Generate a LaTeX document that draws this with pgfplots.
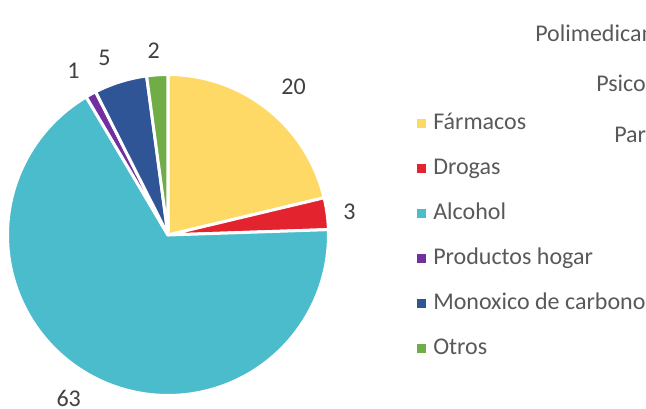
\documentclass[border=0pt]{standalone}
\usepackage{fontspec}
\setmainfont{Carlito}
\usepackage{pgfplots}
\usepackage{pgfplotstable}
\pgfplotsset{compat=1.18}

% slice colours, in table order
\definecolor{slice0}{HTML}{FFD966}
\definecolor{slice1}{HTML}{E3232E}
\definecolor{slice2}{HTML}{4BBCCB}
\definecolor{slice3}{HTML}{7030A0}
\definecolor{slice4}{HTML}{2F5597}
\definecolor{slice5}{HTML}{70AD47}
\definecolor{txt}{HTML}{404040}
\definecolor{leg}{HTML}{595959}

% lr = label radius, la = label angle nudge (degrees)
\pgfplotstableread[col sep=comma]{
label,value,lr,la
Fármacos,20,1.21,-2
Drogas,3,1.14,-0.5
Alcohol,63,1.19,-2.6
Productos hogar,1,1.18,1.2
Monoxico de carbono,5,1.17,2.5
Otros,2,1.15,0.6
}\piedata

\def\px{0.75pt}
\newcommand\bigfont{\fontsize{18}{21.6}\selectfont}

\begin{document}%
\begin{tikzpicture}
\useasboundingbox (0,0) rectangle (646*\px,-409*\px);
\clip (0,0) rectangle (646*\px,-409*\px);

% cumulative sums -> start / end / middle angle of each slice
\def\cum{0}
\pgfplotsforeachungrouped \i in {0,...,5}{%
  \pgfplotstablegetelem{\i}{value}\of\piedata
  \expandafter\xdef\csname val\i\endcsname{\pgfplotsretval}%
  \expandafter\xdef\csname cs\i\endcsname{\cum}%
  \pgfmathsetmacro\tmp{\cum+\pgfplotsretval}%
  \xdef\cum{\tmp}%
  \pgfplotstablegetelem{\i}{label}\of\piedata
  \expandafter\xdef\csname lab\i\endcsname{\pgfplotsretval}%
  \pgfplotstablegetelem{\i}{lr}\of\piedata
  \expandafter\xdef\csname lr\i\endcsname{\pgfplotsretval}%
  \pgfplotstablegetelem{\i}{la}\of\piedata
  \expandafter\xdef\csname la\i\endcsname{\pgfplotsretval}%
}%
\pgfplotsforeachungrouped \i in {0,...,5}{%
  \pgfmathsetmacro\angs{90-360*(\csname cs\i\endcsname/\cum)}%
  \pgfmathsetmacro\ange{\angs-360*(\csname val\i\endcsname/\cum)}%
  \pgfmathsetmacro\angm{(\angs+\ange)/2+\csname la\i\endcsname}%
  \expandafter\xdef\csname aS\i\endcsname{\angs}%
  \expandafter\xdef\csname aE\i\endcsname{\ange}%
  \expandafter\xdef\csname aM\i\endcsname{\angm}%
}%

\begin{axis}[
  at={(168*\px,-235*\px)}, anchor=origin,
  width=321*\px, height=321*\px, scale only axis,
  xmin=-1, xmax=1, ymin=-1, ymax=1,
  hide axis, clip=false,
]
\pgfplotsinvokeforeach{0,...,5}{
  \addplot[fill=slice#1, draw=white, line width=2.25pt, line join=round,
    domain=\csname aE#1\endcsname:\csname aS#1\endcsname, samples=120]
    ({cos(x)},{sin(x)}) -- (axis cs:0,0) -- cycle;
  \node[font=\bigfont, text=txt, inner sep=0pt]
    at (axis cs:{\csname lr#1\endcsname*cos(\csname aM#1\endcsname)},{\csname lr#1\endcsname*sin(\csname aM#1\endcsname)})
    {\csname val#1\endcsname};
}
\end{axis}

% legend
\foreach \i in {0,...,5}{
  \fill[slice\i] (416.7*\px,{-(119.3+45*\i)*\px}) rectangle ++(9*\px,-9*\px);
  \node[anchor=base west, inner sep=0pt, text=leg, font=\bigfont]
    at (433*\px,{-(130+45*\i)*\px}) {\csname lab\i\endcsname};
}

% labels of the neighbouring chart, cut by the edge
\node[anchor=base west, inner sep=0pt, text=leg, font=\bigfont] at (535*\px,-41.7*\px) {Polimedicamentos};
\node[anchor=base west, inner sep=0pt, text=leg, font=\bigfont] at (596*\px,-91.7*\px) {Psicofármacos};
\node[anchor=base west, inner sep=0pt, text=leg, font=\bigfont] at (614*\px,-143*\px) {Paracetamol};
\end{tikzpicture}%
\end{document}
